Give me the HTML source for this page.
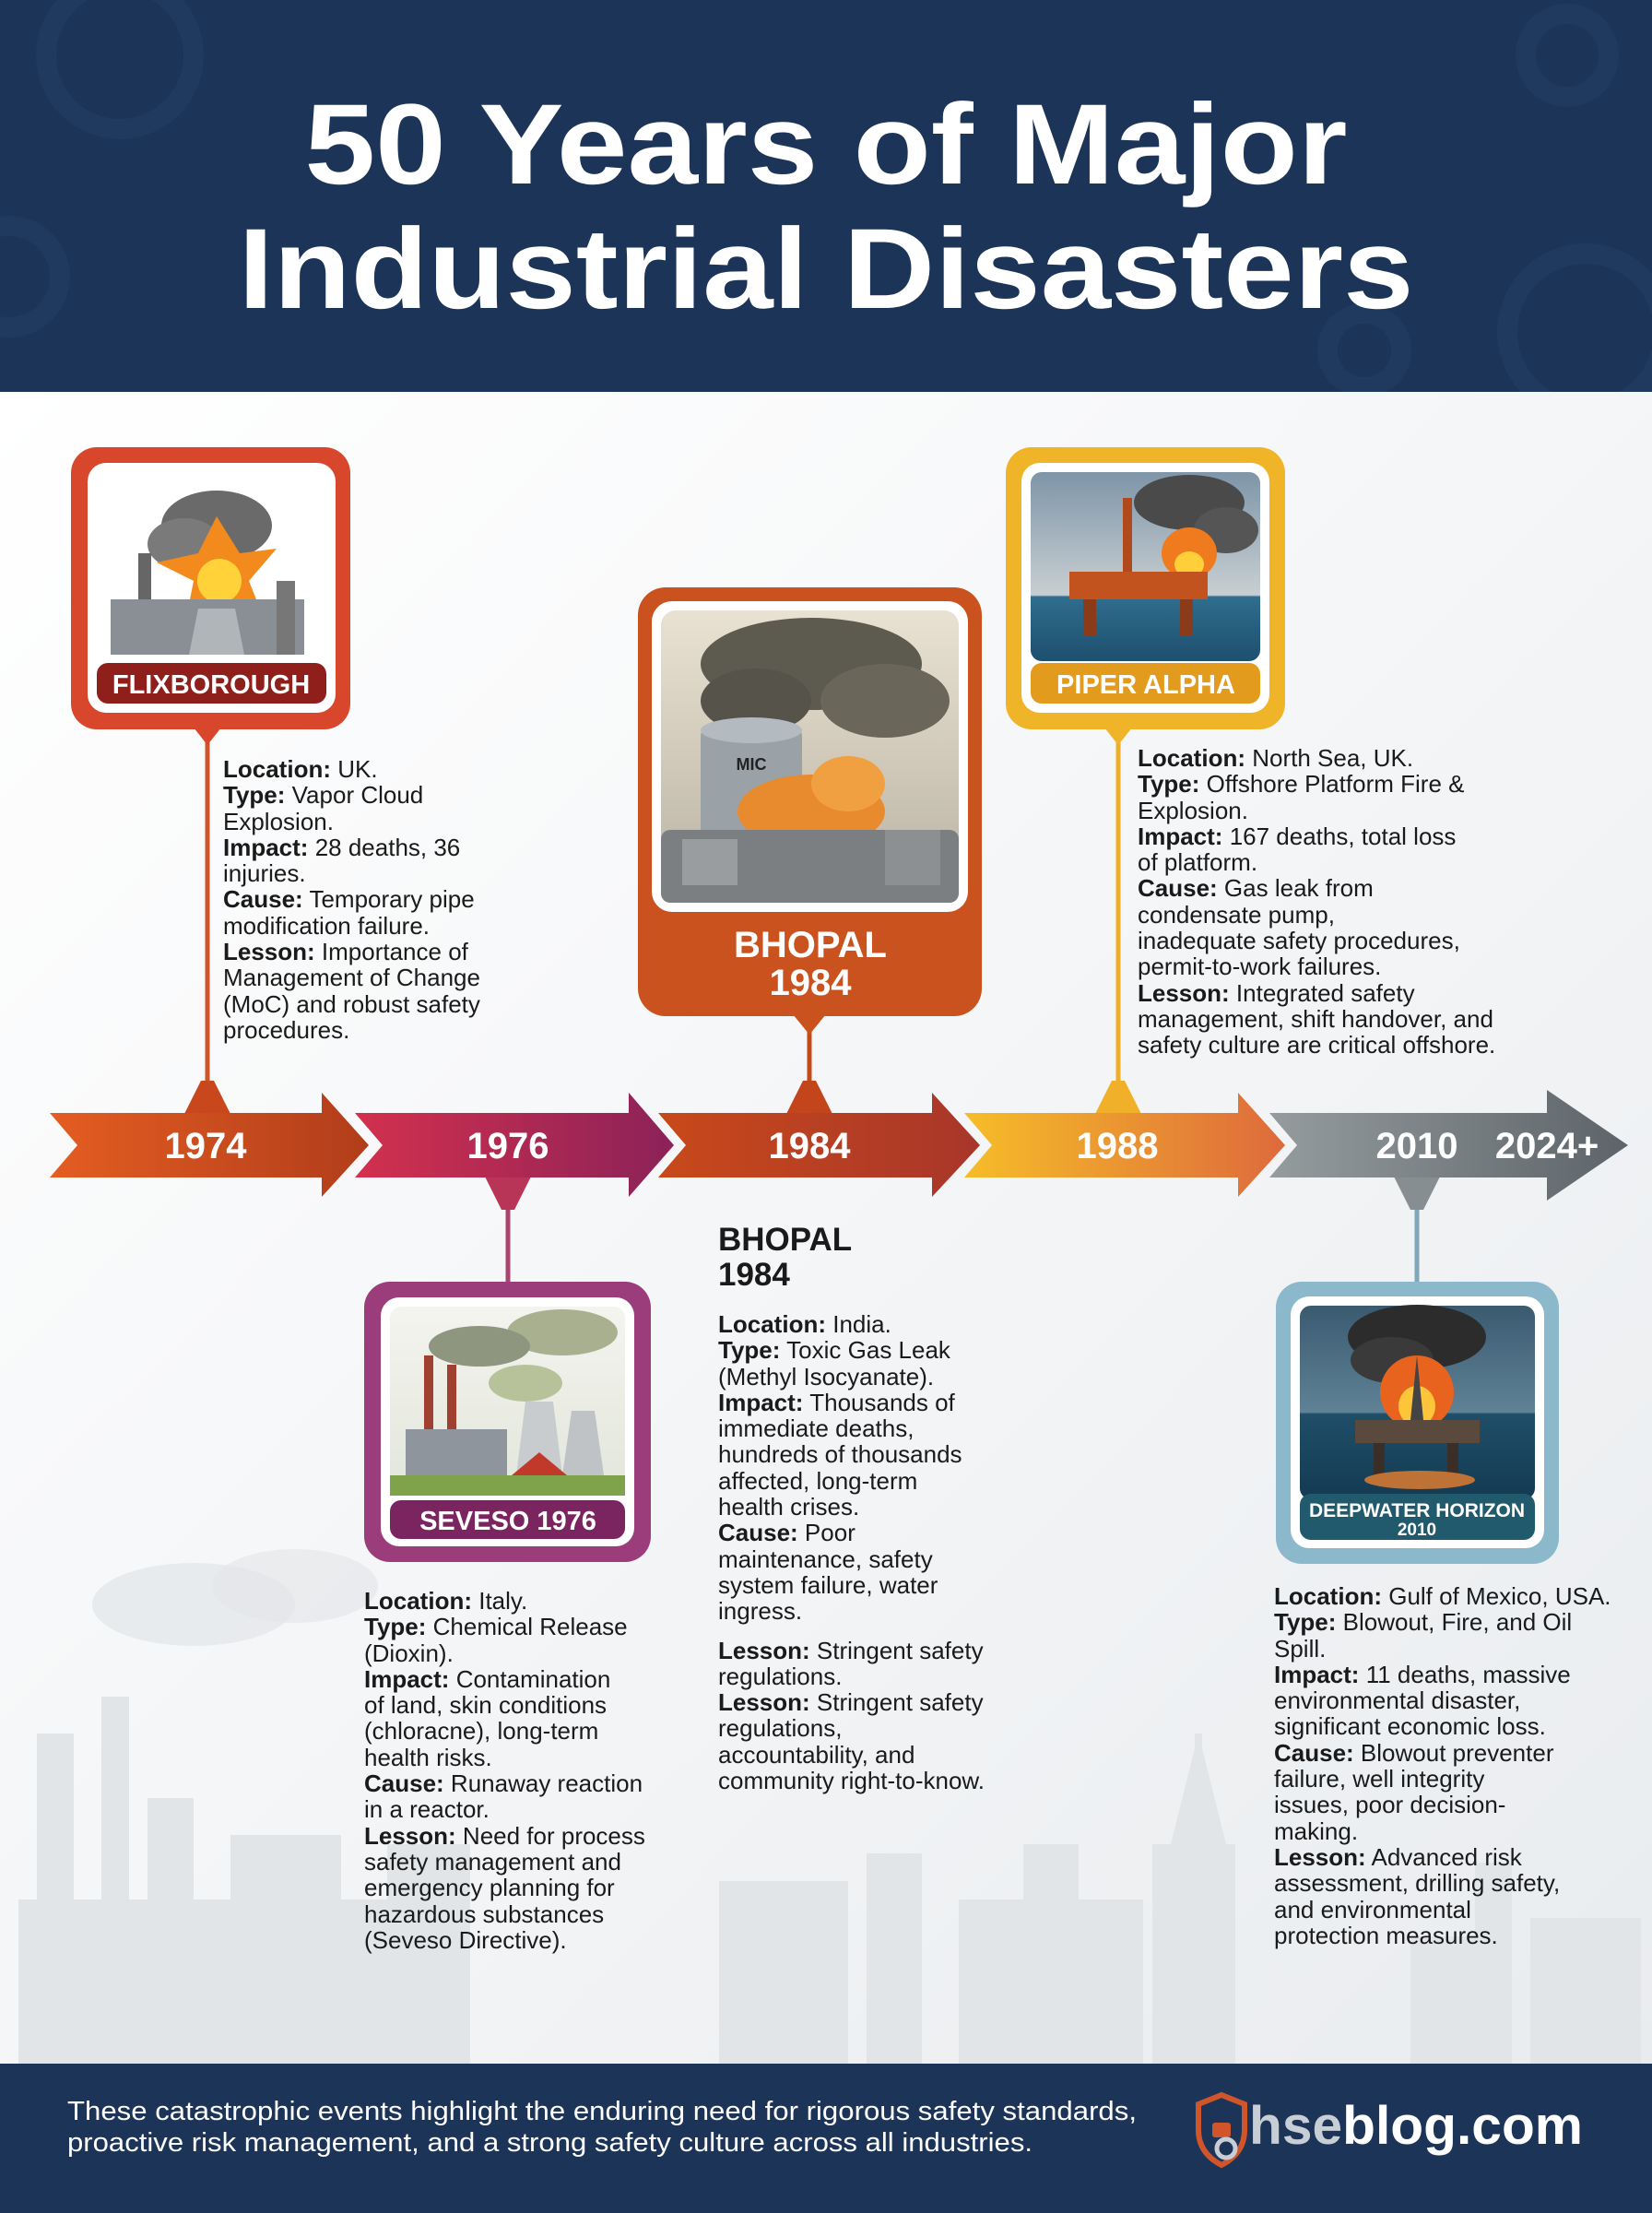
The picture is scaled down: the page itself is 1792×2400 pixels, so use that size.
<!DOCTYPE html>
<html><head><meta charset="utf-8"><style>
html,body{margin:0;padding:0}
body{width:1792px;height:2400px;position:relative;overflow:hidden;font-family:"Liberation Sans",sans-serif;background:#f2f4f6}
.t{position:absolute;font-size:26px;line-height:28.3px;color:#1a1a1a;white-space:nowrap}
.t b{font-weight:700}
</style></head><body>
<svg width="1792" height="2400" viewBox="0 0 1792 2400" style="position:absolute;left:0;top:0">
<defs>
<clipPath id="hc"><rect x="0" y="0" width="1792" height="425"/></clipPath>
<linearGradient id="bg" x1="0" y1="0" x2="1" y2="1"><stop offset="0" stop-color="#ffffff"/><stop offset="1" stop-color="#e9ecef"/></linearGradient>
<linearGradient id="g1" x1="0" x2="1"><stop offset="0" stop-color="#e45d22"/><stop offset="1" stop-color="#b13d1a"/></linearGradient>
<linearGradient id="g2" x1="0" x2="1"><stop offset="0" stop-color="#d3304e"/><stop offset="1" stop-color="#8b2258"/></linearGradient>
<linearGradient id="g3" x1="0" x2="1"><stop offset="0" stop-color="#c8491a"/><stop offset="1" stop-color="#a8362a"/></linearGradient>
<linearGradient id="g4" x1="0" x2="1"><stop offset="0" stop-color="#f6bd28"/><stop offset="1" stop-color="#de6a3c"/></linearGradient>
<linearGradient id="g5" x1="0" x2="1"><stop offset="0" stop-color="#949c9e"/><stop offset="1" stop-color="#5c6469"/></linearGradient>
<linearGradient id="sky1" x1="0" y1="0" x2="0" y2="1"><stop offset="0" stop-color="#e9e2d2"/><stop offset="1" stop-color="#b9b2a4"/></linearGradient>
<linearGradient id="sky2" x1="0" y1="0" x2="0" y2="1"><stop offset="0" stop-color="#7e95a8"/><stop offset="0.65" stop-color="#c8cfd2"/><stop offset="0.66" stop-color="#2f6d8f"/><stop offset="1" stop-color="#1e4f6e"/></linearGradient>
<linearGradient id="sky3" x1="0" y1="0" x2="0" y2="1"><stop offset="0" stop-color="#3a5a70"/><stop offset="0.55" stop-color="#5f8296"/><stop offset="0.56" stop-color="#1f4e68"/><stop offset="1" stop-color="#143a52"/></linearGradient>
<linearGradient id="sky4" x1="0" y1="0" x2="0" y2="1"><stop offset="0" stop-color="#f4f4ee"/><stop offset="1" stop-color="#e2e6dc"/></linearGradient>
</defs>
<rect x="0" y="425" width="1792" height="1813" fill="url(#bg)"/>
<g fill="#e2e5e8">
<rect x="40" y="1880" width="40" height="360"/><rect x="110" y="1840" width="30" height="400"/><rect x="160" y="1950" width="50" height="290"/>
<rect x="20" y="2060" width="480" height="180"/><rect x="250" y="1990" width="120" height="250"/><rect x="420" y="2000" width="90" height="240"/>
<rect x="780" y="2040" width="140" height="200"/><rect x="940" y="2010" width="60" height="230"/><rect x="1040" y="2060" width="200" height="180"/>
<rect x="1250" y="2000" width="90" height="240"/><rect x="1600" y="2020" width="40" height="220"/><rect x="1660" y="2080" width="120" height="160"/>
<ellipse cx="210" cy="1740" rx="110" ry="45" opacity="0.7"/><ellipse cx="320" cy="1720" rx="90" ry="40" opacity="0.6"/>
<polygon points="1270,2000 1300,1880 1330,2000"/><rect x="1296" y="1880" width="8" height="30"/>
<rect x="1530" y="2100" width="70" height="140"/><rect x="1110" y="2000" width="60" height="60"/>
</g>
<rect x="0" y="0" width="1792" height="425" fill="#1b3458"/>
<g fill="none" stroke="#213b61" stroke-width="22" opacity="0.8" clip-path="url(#hc)">
<circle cx="130" cy="60" r="80"/><circle cx="10" cy="300" r="55"/><circle cx="1720" cy="360" r="85"/><circle cx="1480" cy="380" r="40"/><circle cx="1700" cy="60" r="45"/>
</g>
<text x="896" y="199" text-anchor="middle" font-family="Liberation Sans" font-weight="700" font-size="124" fill="#fff" textLength="1131" lengthAdjust="spacingAndGlyphs">50 Years of Major</text>
<text x="896" y="334" text-anchor="middle" font-family="Liberation Sans" font-weight="700" font-size="124" fill="#fff" textLength="1275" lengthAdjust="spacingAndGlyphs">Industrial Disasters</text>
<g stroke-width="5">
<line x1="225" y1="790" x2="225" y2="1190" stroke="#d0552a"/>
<line x1="878" y1="1100" x2="878" y2="1190" stroke="#c44a1a"/>
<line x1="1213" y1="790" x2="1213" y2="1190" stroke="#eeae2a"/>
<line x1="551" y1="1290" x2="551" y2="1392" stroke="#a8446e"/>
<line x1="1537" y1="1290" x2="1537" y2="1392" stroke="#7fa7b7"/>
</g>
<polygon points="200,1208 250,1208 232,1172 218,1172" fill="#c9471c"/>
<polygon points="853,1208 903,1208 885,1172 871,1172" fill="#c2451b"/>
<polygon points="1188,1208 1238,1208 1220,1172 1206,1172" fill="#f0b02a"/>
<polygon points="526,1276 576,1276 558,1312 544,1312" fill="#b83558"/>
<polygon points="1512,1276 1562,1276 1544,1312 1530,1312" fill="#868e91"/>
<polygon points="54,1207 349,1207 349,1185 400,1242 349,1298 349,1277 54,1277 84,1242" fill="url(#g1)"/>
<polygon points="385,1207 682,1207 682,1185 731,1242 682,1298 682,1277 385,1277 415,1242" fill="url(#g2)"/>
<polygon points="714,1207 1011,1207 1011,1185 1063,1242 1011,1298 1011,1277 714,1277 744,1242" fill="url(#g3)"/>
<polygon points="1046,1207 1343,1207 1343,1185 1394,1242 1343,1298 1343,1277 1046,1277 1076,1242" fill="url(#g4)"/>
<polygon points="1377,1207 1678,1207 1678,1182 1766,1242 1678,1302 1678,1277 1377,1277 1407,1242" fill="url(#g5)"/>
<g font-family="Liberation Sans" font-weight="700" font-size="40" fill="#fff" text-anchor="middle">
<text x="223" y="1256">1974</text><text x="551" y="1256">1976</text><text x="878" y="1256">1984</text><text x="1212" y="1256">1988</text><text x="1537" y="1256">2010</text><text x="1678" y="1256">2024+</text>
</g>
<rect x="77" y="485" width="303" height="306" rx="28" fill="#d8472b"/>
<rect x="95" y="502" width="269" height="271" rx="20" fill="#fff"/>
<ellipse cx="235" cy="570" rx="60" ry="38" fill="#6a6a6a"/><ellipse cx="200" cy="590" rx="40" ry="28" fill="#7a7a7a"/>
<polygon points="235,560 260,600 300,595 270,630 290,680 240,650 200,680 210,630 170,610 215,600" fill="#f28a1e"/>
<circle cx="238" cy="630" r="24" fill="#ffd23a"/>
<rect x="150" y="600" width="14" height="110" fill="#666"/><rect x="120" y="650" width="210" height="60" fill="#8a8f95"/><rect x="300" y="630" width="20" height="80" fill="#777"/>
<polygon points="205,710 215,660 255,660 265,710" fill="#b0b5ba"/>
<rect x="105" y="719" width="249" height="44" rx="12" fill="#8e1f1a"/>
<text x="229" y="752" text-anchor="middle" font-family="Liberation Sans" font-weight="700" font-size="29" fill="#fff">FLIXBOROUGH</text>
<polygon points="210,789 240,789 225,808" fill="#d8472b"/>
<rect x="692" y="637" width="373" height="465" rx="30" fill="#c9521f"/>
<rect x="707" y="652" width="343" height="337" rx="22" fill="#fff"/>
<rect x="717" y="662" width="323" height="317" rx="16" fill="url(#sky1)"/>
<ellipse cx="880" cy="720" rx="120" ry="50" fill="#5d5b50"/><ellipse cx="960" cy="760" rx="70" ry="40" fill="#6a675a"/><ellipse cx="820" cy="760" rx="60" ry="35" fill="#55534a"/>
<rect x="760" y="790" width="110" height="120" rx="8" fill="#9aa2a8"/><ellipse cx="815" cy="792" rx="55" ry="14" fill="#b4bbc0"/>
<text x="815" y="835" text-anchor="middle" font-family="Liberation Sans" font-weight="700" font-size="18" fill="#222">MIC</text>
<ellipse cx="880" cy="880" rx="80" ry="40" fill="#e88a2e"/><ellipse cx="920" cy="850" rx="40" ry="30" fill="#f0a040"/>
<rect x="717" y="900" width="323" height="79" rx="10" fill="#7c7f82"/>
<rect x="740" y="910" width="60" height="50" fill="#9a9d9f"/><rect x="960" y="900" width="60" height="60" fill="#8d9093"/>
<text x="879" y="1038" text-anchor="middle" font-family="Liberation Sans" font-weight="700" font-size="40" fill="#fff">BHOPAL</text>
<text x="879" y="1079" text-anchor="middle" font-family="Liberation Sans" font-weight="700" font-size="40" fill="#fff">1984</text>
<polygon points="860,1100 896,1100 878,1122" fill="#c9521f"/>
<rect x="1091" y="485" width="303" height="306" rx="28" fill="#f0b429"/>
<rect x="1108" y="502" width="269" height="271" rx="20" fill="#fff"/>
<rect x="1118" y="512" width="249" height="205" rx="12" fill="url(#sky2)"/>
<ellipse cx="1290" cy="545" rx="60" ry="30" fill="#4a4a4a"/><ellipse cx="1330" cy="575" rx="35" ry="25" fill="#555"/>
<ellipse cx="1290" cy="600" rx="30" ry="28" fill="#f07a1e"/><ellipse cx="1290" cy="612" rx="16" ry="14" fill="#ffcf3a"/>
<rect x="1160" y="620" width="150" height="30" fill="#c2521e"/><rect x="1175" y="650" width="14" height="40" fill="#8a3c1a"/><rect x="1280" y="650" width="14" height="40" fill="#8a3c1a"/>
<rect x="1218" y="540" width="10" height="80" fill="#b04a1c"/>
<rect x="1118" y="719" width="249" height="44" rx="12" fill="#e39b1e"/>
<text x="1243" y="752" text-anchor="middle" font-family="Liberation Sans" font-weight="700" font-size="29" fill="#fff">PIPER ALPHA</text>
<polygon points="1198,789 1228,789 1213,808" fill="#f0b429"/>
<rect x="395" y="1390" width="311" height="304" rx="28" fill="#9b3d7a"/>
<rect x="413" y="1407" width="275" height="270" rx="20" fill="#fff"/>
<rect x="423" y="1417" width="255" height="205" rx="12" fill="url(#sky4)"/>
<ellipse cx="610" cy="1445" rx="60" ry="25" fill="#a8b090"/><ellipse cx="520" cy="1460" rx="55" ry="22" fill="#8e9680"/><ellipse cx="570" cy="1500" rx="40" ry="20" fill="#b8c29a"/>
<rect x="460" y="1470" width="10" height="90" fill="#a04030"/><rect x="485" y="1480" width="10" height="80" fill="#a04030"/>
<polygon points="560,1600 570,1520 600,1520 610,1600" fill="#c9ccce"/><polygon points="610,1600 620,1530 645,1530 655,1600" fill="#bfc3c6"/>
<rect x="440" y="1550" width="110" height="55" fill="#8e959c"/>
<polygon points="555,1600 585,1575 615,1600" fill="#c0392b"/><rect x="560" y="1600" width="55" height="20" fill="#f2e2c0"/>
<rect x="423" y="1600" width="255" height="22" fill="#7ea34a"/>
<rect x="423" y="1627" width="255" height="42" rx="12" fill="#7a2560"/>
<text x="551" y="1659" text-anchor="middle" font-family="Liberation Sans" font-weight="700" font-size="29" fill="#fff">SEVESO 1976</text>
<rect x="1384" y="1390" width="307" height="306" rx="28" fill="#8cb8cc"/>
<rect x="1400" y="1406" width="275" height="273" rx="20" fill="#fff"/>
<rect x="1410" y="1416" width="255" height="210" rx="12" fill="url(#sky3)"/>
<ellipse cx="1537" cy="1450" rx="75" ry="35" fill="#2c2c2c"/><ellipse cx="1510" cy="1475" rx="45" ry="25" fill="#3a3a3a"/>
<ellipse cx="1537" cy="1510" rx="40" ry="40" fill="#e8641e"/><ellipse cx="1537" cy="1525" rx="20" ry="22" fill="#ffc53a"/>
<rect x="1470" y="1540" width="135" height="25" fill="#5a4a3e"/><rect x="1490" y="1565" width="12" height="35" fill="#3a2e26"/><rect x="1570" y="1565" width="12" height="35" fill="#3a2e26"/>
<polygon points="1530,1540 1537,1470 1544,1540" fill="#444"/>
<ellipse cx="1540" cy="1605" rx="60" ry="10" fill="#e8802e" opacity="0.8"/>
<rect x="1410" y="1620" width="255" height="50" rx="12" fill="#215a6c"/>
<text x="1537" y="1645" text-anchor="middle" font-family="Liberation Sans" font-weight="700" font-size="21" fill="#fff">DEEPWATER HORIZON</text>
<text x="1537" y="1665" text-anchor="middle" font-family="Liberation Sans" font-weight="700" font-size="19" fill="#fff">2010</text>
<rect x="0" y="2238" width="1792" height="162" fill="#1b3458"/>
<text x="73" y="2299" font-family="Liberation Sans" font-size="29" fill="#fff" textLength="1160" lengthAdjust="spacingAndGlyphs">These catastrophic events highlight the enduring need for rigorous safety standards,</text>
<text x="73" y="2333" font-family="Liberation Sans" font-size="29" fill="#fff" textLength="1047" lengthAdjust="spacingAndGlyphs">proactive risk management, and a strong safety culture across all industries.</text>
<path d="M1300 2282 L1325 2272 L1350 2282 L1350 2310 Q1350 2335 1325 2348 Q1300 2335 1300 2310 Z" fill="none" stroke="#d0552a" stroke-width="6"/>
<rect x="1315" y="2302" width="20" height="16" rx="3" fill="#d0552a"/>
<circle cx="1330" cy="2330" r="10" fill="none" stroke="#c8ced6" stroke-width="5"/>
<text x="1355" y="2325" font-family="Liberation Sans" font-weight="700" font-size="58" fill="#fff" textLength="362" lengthAdjust="spacingAndGlyphs"><tspan fill="#c8ced6">hse</tspan>blog.com</text>
</svg>

<div class="t" style="left:242px;top:820px"><b>Location:</b> UK.<br><b>Type:</b> Vapor Cloud<br>Explosion.<br><b>Impact:</b> 28 deaths, 36<br>injuries.<br><b>Cause:</b> Temporary pipe<br>modification failure.<br><b>Lesson:</b> Importance of<br>Management of Change<br>(MoC) and robust safety<br>procedures.</div>

<div class="t" style="left:1234px;top:808px"><b>Location:</b> North Sea, UK.<br><b>Type:</b> Offshore Platform Fire &amp;<br>Explosion.<br><b>Impact:</b> 167 deaths, total loss<br>of platform.<br><b>Cause:</b> Gas leak from<br>condensate pump,<br>inadequate safety procedures,<br>permit-to-work failures.<br><b>Lesson:</b> Integrated safety<br>management, shift handover, and<br>safety culture are critical offshore.</div>

<div class="t" style="left:779px;top:1326px;font-size:35px;line-height:38px;font-weight:700">BHOPAL<br>1984</div>
<div class="t" style="left:779px;top:1422px"><b>Location:</b> India.<br><b>Type:</b> Toxic Gas Leak<br>(Methyl Isocyanate).<br><b>Impact:</b> Thousands of<br>immediate deaths,<br>hundreds of thousands<br>affected, long-term<br>health crises.<br><b>Cause:</b> Poor<br>maintenance, safety<br>system failure, water<br>ingress.<div style="height:14px"></div><b>Lesson:</b> Stringent safety<br>regulations.<br><b>Lesson:</b> Stringent safety<br>regulations,<br>accountability, and<br>community right-to-know.</div>

<div class="t" style="left:395px;top:1722px"><b>Location:</b> Italy.<br><b>Type:</b> Chemical Release<br>(Dioxin).<br><b>Impact:</b> Contamination<br>of land, skin conditions<br>(chloracne), long-term<br>health risks.<br><b>Cause:</b> Runaway reaction<br>in a reactor.<br><b>Lesson:</b> Need for process<br>safety management and<br>emergency planning for<br>hazardous substances<br>(Seveso Directive).</div>

<div class="t" style="left:1382px;top:1717px"><b>Location:</b> Gulf of Mexico, USA.<br><b>Type:</b> Blowout, Fire, and Oil<br>Spill.<br><b>Impact:</b> 11 deaths, massive<br>environmental disaster,<br>significant economic loss.<br><b>Cause:</b> Blowout preventer<br>failure, well integrity<br>issues, poor decision-<br>making.<br><b>Lesson:</b> Advanced risk<br>assessment, drilling safety,<br>and environmental<br>protection measures.</div>
</body></html>
